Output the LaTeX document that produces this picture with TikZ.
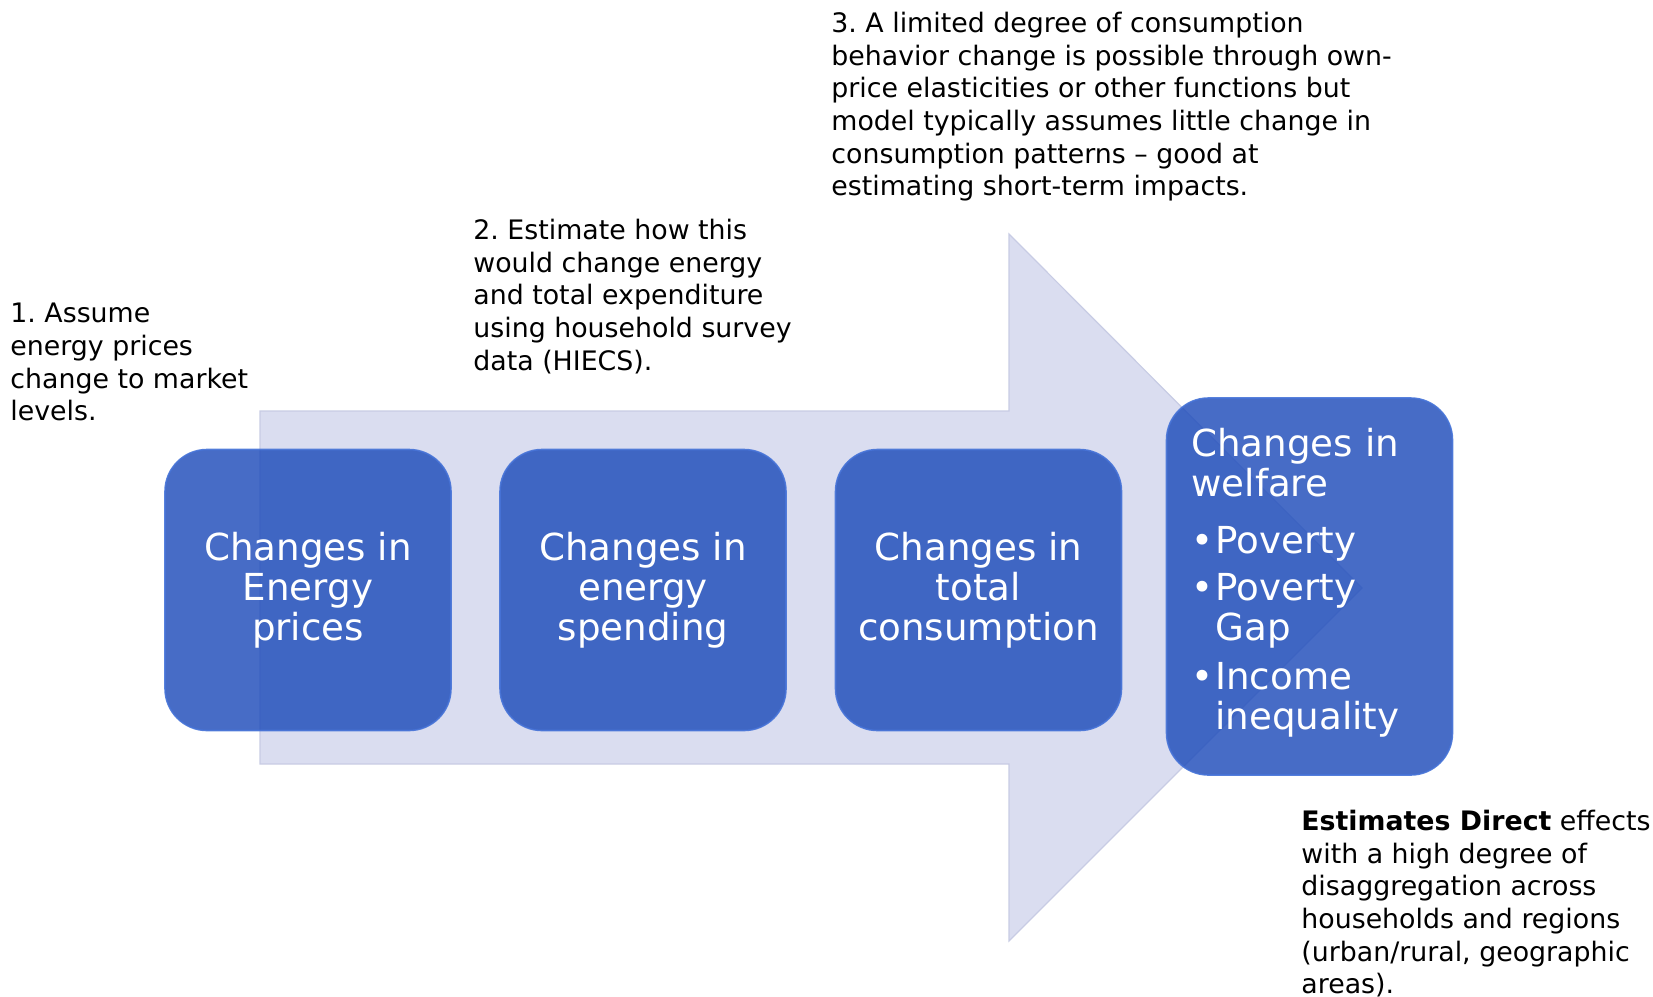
\documentclass[tikz,border=0pt]{standalone}
\usepackage{fontspec}
\setmainfont{DejaVu Sans}
\frenchspacing
\definecolor{arrowfill}{RGB}{218,221,240}
\definecolor{arrowedge}{RGB}{200,204,228}
\definecolor{boxblue}{RGB}{30,76,186}
\definecolor{boxedge}{RGB}{70,115,215}
\newcommand{\annfont}{\fontsize{13.4pt}{16.3pt}\selectfont\frenchspacing}
\newcommand{\bxfont}{\fontsize{18.6pt}{20pt}\selectfont}
\newcommand{\bul}{\makebox[12pt][l]{•}}
\tikzset{
  bluebox/.style={draw=boxedge, line width=0.8pt, fill=boxblue, fill opacity=0.82, draw opacity=0.9,
    text opacity=1, rounded corners=21pt, minimum width=143pt, text=white, font=\bxfont,
    align=center, inner sep=0pt},
  ann/.style={anchor=north west, inner sep=0pt, align=left, font=\annfont, text=black}
}
\begin{document}
\begin{tikzpicture}[x=0.5pt,y=-0.5pt]
\useasboundingbox (0,0) rectangle (1653,996);
% big arrow
\draw[fill=arrowfill, draw=arrowedge, line width=0.6pt, line join=miter]
  (260,411) -- (1009,411) -- (1009,234) -- (1362,588) -- (1009,941) -- (1009,764) -- (260,764) -- cycle;
% boxes
\node[bluebox, minimum height=140.5pt] (b1) at (308,590) {Changes in\\Energy\\prices};
\node[bluebox, minimum height=140.5pt] (b2) at (643,590) {Changes in\\energy\\spending};
\node[bluebox, minimum height=140.5pt] (b3) at (978.5,590) {Changes in\\total\\consumption};
\node[bluebox, minimum height=188.5pt] (b4) at (1309.5,586.5) {};
\node[anchor=north west, inner sep=0pt, align=left, text=white, font=\bxfont] (t4) at (1191,428)
  {Changes in\\welfare\\[8.5pt]\bul Poverty\\[3.5pt]\bul Poverty\\\hspace*{12pt}Gap\\[4.5pt]\bul Income\\\hspace*{12pt}inequality};
% annotations
\node[ann] (a1) at (10,303) {1. Assume\\energy prices\\change to market\\levels.};
\node[ann] (a2) at (473,219) {2. Estimate how this\\would change energy\\and total expenditure\\using household survey\\data (HIECS).};
\node[ann] (a3) at (831,12) {3. A limited degree of consumption\\behavior change is possible through own-\\price elasticities or other functions but\\model typically assumes little change in\\consumption patterns – good at\\estimating short-term impacts.};
\node[ann] (a4) at (1301,810) {\textbf{Estimates Direct} effects\\with a high degree of\\disaggregation across\\households and regions\\(urban/rural, geographic\\areas).};
\end{tikzpicture}
\end{document}
